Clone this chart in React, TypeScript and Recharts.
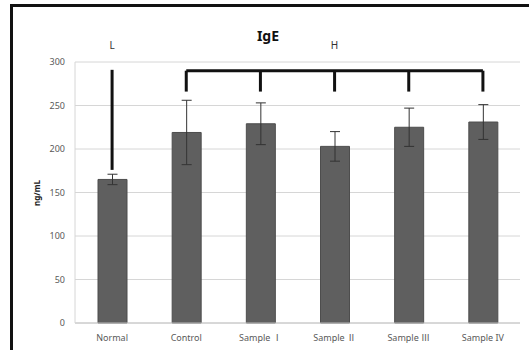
import React from "react";
import { Bar, BarChart, CartesianGrid, ErrorBar, ReferenceLine, XAxis, YAxis } from "recharts";

const categories = ["Normal", "Control", "Sample Ⅰ", "Sample Ⅱ", "Sample Ⅲ", "Sample IV"];
const means = [165, 219, 229, 203, 225, 231];
const errors = [6, 37, 24, 17, 22, 20];
const yTicks = [0, 50, 100, 150, 200, 250, 300];

const data = categories.map((name, i) => ({ name, value: means[i], err: errors[i] }));

const font = "'Noto Sans', 'Noto Sans CJK KR', sans-serif";
const lineColor = "#111111";
const bracketTop = 290;
const bracketBottom = 266;

export default function App() {
  return (
    <div style={{ position: "absolute", left: 0, top: 0, width: 529, height: 350, background: "#fff", fontFamily: font }}>
      <div
        style={{
          position: "absolute",
          left: 10,
          top: 4,
          width: 519,
          height: 346,
          borderTop: "3px solid #111",
          borderLeft: "3px solid #111",
          boxSizing: "border-box",
        }}
      />
      <div
        style={{
          position: "absolute",
          left: 0,
          width: 536,
          top: 26,
          textAlign: "center",
          fontSize: 14,
          fontWeight: 700,
          color: "#111",
        }}
      >
        IgE
      </div>
      <div
        style={{
          position: "absolute",
          left: 36,
          top: 193,
          transform: "translate(-50%, -50%) rotate(-90deg)",
          fontSize: 8,
          fontWeight: 700,
          color: "#222",
          whiteSpace: "nowrap",
        }}
      >
        ng/mL
      </div>
      <BarChart
        width={529}
        height={350}
        data={data}
        margin={{ top: 62, right: 9, bottom: 0, left: 40 }}
        barSize={29}
        style={{ position: "absolute", left: 0, top: 0 }}
      >
        <CartesianGrid vertical={false} stroke="#d6d6d6" />
        <XAxis
          dataKey="name"
          height={27}
          tickLine={false}
          tickSize={0}
          tickMargin={12}
          axisLine={{ stroke: "#c4c4c4" }}
          tick={{ fontSize: 9, fill: "#595959", fontFamily: font }}
          interval={0}
        />
        <YAxis
          width={35}
          domain={[0, 300]}
          ticks={yTicks}
          tickLine={false}
          tickSize={0}
          tickMargin={10}
          axisLine={{ stroke: "#d6d6d6" }}
          tick={{ fontSize: 9, fill: "#595959", fontFamily: font }}
        />
        <Bar dataKey="value" fill="#5f5f5f" stroke="#4d4d4d" isAnimationActive={false}>
          <ErrorBar dataKey="err" width={5} stroke="#333" strokeWidth={1} />
        </Bar>
        <ReferenceLine
          segment={[{ x: "Normal", y: 291 }, { x: "Normal", y: 176 }]}
          stroke={lineColor}
          strokeWidth={3}
          ifOverflow="visible"
          label={{ value: "L", position: "top", offset: 21, fontSize: 10, fill: "#333", fontFamily: font }}
        />
        <ReferenceLine
          segment={[{ x: categories[1], y: bracketTop }, { x: categories[5], y: bracketTop }]}
          stroke={lineColor}
          strokeWidth={3}
          ifOverflow="visible"
        />
        {categories.slice(1).map((c, i) => (
          <ReferenceLine
            key={c}
            segment={[{ x: c, y: bracketTop }, { x: c, y: bracketBottom }]}
            stroke={lineColor}
            strokeWidth={3}
            ifOverflow="visible"
            label={
              i === 2
                ? { value: "H", position: "top", offset: 22, fontSize: 10, fill: "#333", fontFamily: font }
                : undefined
            }
          />
        ))}
      </BarChart>
    </div>
  );
}
